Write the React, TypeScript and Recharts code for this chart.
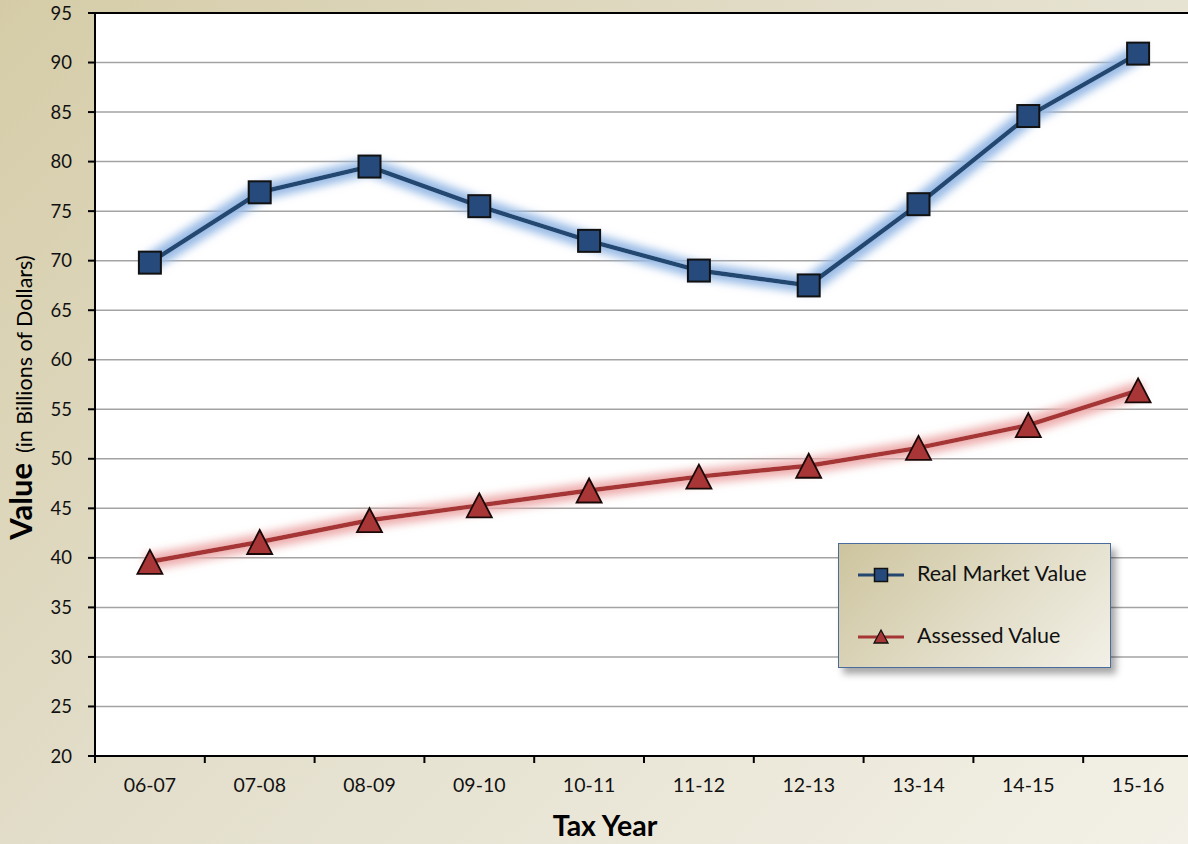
import React from "react";
import {
  LineChart,
  Line,
  XAxis,
  YAxis,
  CartesianGrid,
  ReferenceLine,
  Legend,
} from "recharts";

const categories = ["06-07", "07-08", "08-09", "09-10", "10-11", "11-12", "12-13", "13-14", "14-15", "15-16"];
const realMarketValue = [69.8, 76.9, 79.5, 75.5, 72.0, 69.0, 67.5, 75.7, 84.6, 90.9];
const assessedValue = [39.6, 41.6, 43.8, 45.3, 46.8, 48.2, 49.3, 51.1, 53.4, 56.9];
const yTicks = [20, 25, 30, 35, 40, 45, 50, 55, 60, 65, 70, 75, 80, 85, 90, 95];
// category centres (integers) and category boundaries (half values) on the x axis
const xTicks = [-0.5, 0, 0.5, 1, 1.5, 2, 2.5, 3, 3.5, 4, 4.5, 5, 5.5, 6, 6.5, 7, 7.5, 8, 8.5, 9, 9.5];

const data = categories.map((c, i) => ({
  i,
  label: c,
  rmv: realMarketValue[i],
  av: assessedValue[i],
}));

const FONT = "Lato, 'Open Sans', sans-serif";
const BLUE = "#24466f";
const BLUE_FILL = "#264a7c";
const RED = "#a63535";
const RED_FILL = "#a83636";

const XTick = (props: any) => {
  const { x, y, payload } = props;
  const v = payload.value;
  if (Number.isInteger(v)) {
    return (
      <text x={x} y={y + 36} textAnchor="middle" fontSize={19.5} fontFamily={FONT} fill="#111">
        {categories[v]}
      </text>
    );
  }
  return <line x1={x} y1={y} x2={x} y2={y + 7} stroke="#000" strokeWidth={2} />;
};

const SquareDot = (props: any) => {
  const { cx, cy } = props;
  if (cx == null || cy == null) return null;
  return (
    <rect x={cx - 11} y={cy - 11} width={22} height={22} fill={BLUE_FILL} stroke="#111" strokeWidth={2} />
  );
};

const TriangleDot = (props: any) => {
  const { cx, cy } = props;
  if (cx == null || cy == null) return null;
  const pts = `${cx},${cy - 12} ${cx + 12.5},${cy + 12} ${cx - 12.5},${cy + 12}`;
  return <polygon points={pts} fill={RED_FILL} stroke="#1a0808" strokeWidth={1.8} strokeLinejoin="miter" />;
};

const YLabel = (props: any) => {
  const vb = props.viewBox || { x: 0, y: 13, width: 95, height: 743 };
  const bx = vb.x + 32;
  const cy = vb.y + vb.height / 2 + 13;
  return (
    <text
      x={bx}
      y={cy}
      transform={`rotate(-90 ${bx} ${cy})`}
      textAnchor="middle"
      fontFamily={FONT}
      fill="#000"
    >
      <tspan fontWeight={700} fontSize={31}>Value</tspan>
      <tspan fontSize={21.5} dx={10}>(in Billions of Dollars)</tspan>
    </text>
  );
};

const XLabel = (props: any) => {
  const vb = props.viewBox || { x: 95, y: 756, width: 1098, height: 88 };
  const cx = vb.x + vb.width / 2 - 39;
  const by = vb.y + 80;
  return (
    <text x={cx} y={by} textAnchor="middle" fontFamily={FONT} fontWeight={700} fontSize={28.5} fill="#000">
      Tax Year
    </text>
  );
};

const LegendBox = () => (
  <div
    style={{
      position: "relative",
      width: 273,
      height: 125,
      boxSizing: "border-box",
      border: "1.5px solid #4a6c9c",
      background: "linear-gradient(135deg, #cdc49e 0%, #e2ddc8 55%, #f2f0e7 100%)",
      boxShadow: "5px 6px 7px rgba(0,0,0,0.35)",
      fontFamily: FONT,
      fontSize: 21.5,
      color: "#111",
    }}
  >
    <svg width={50} height={20} style={{ position: "absolute", left: 17, top: 21 }}>
      <line x1={2} y1={10} x2={48} y2={10} stroke={BLUE} strokeWidth={3} />
      <rect x={18.5} y={3.5} width={13} height={13} fill={BLUE_FILL} stroke="#111" strokeWidth={1.5} />
    </svg>
    <div style={{ position: "absolute", left: 78, top: 16, whiteSpace: "nowrap" }}>Real Market Value</div>
    <svg width={50} height={20} style={{ position: "absolute", left: 17, top: 83 }}>
      <line x1={2} y1={10} x2={48} y2={10} stroke={RED} strokeWidth={3} />
      <polygon points="25,3 32,16 18,16" fill={RED_FILL} stroke="#111" strokeWidth={1.3} />
    </svg>
    <div style={{ position: "absolute", left: 78, top: 78, whiteSpace: "nowrap" }}>Assessed Value</div>
  </div>
);

export default function App() {
  return (
    <div
      style={{
        position: "fixed",
        left: 0,
        top: 0,
        width: 1188,
        height: 844,
        overflow: "hidden",
        background: "linear-gradient(135deg, #d5cca7 0%, #e3decb 45%, #f3f1e7 100%)",
      }}
    >
      <svg width={0} height={0} style={{ position: "absolute" }}>
        <defs>
          <filter id="glowB" x="-10%" y="-20%" width="120%" height="140%">
            <feMorphology in="SourceAlpha" operator="dilate" radius={5} result="d" />
            <feGaussianBlur in="d" stdDeviation={4.5} result="b" />
            <feFlood floodColor="#99bbe6" floodOpacity={1} />
            <feComposite in2="b" operator="in" result="g" />
            <feMerge>
              <feMergeNode in="g" />
              <feMergeNode in="SourceGraphic" />
            </feMerge>
          </filter>
          <filter id="glowR" x="-10%" y="-20%" width="120%" height="140%">
            <feMorphology in="SourceAlpha" operator="dilate" radius={5} result="d" />
            <feGaussianBlur in="d" stdDeviation={4.5} result="b" />
            <feFlood floodColor="#eeaeae" floodOpacity={1} />
            <feComposite in2="b" operator="in" result="g" />
            <feMerge>
              <feMergeNode in="g" />
              <feMergeNode in="SourceGraphic" />
            </feMerge>
          </filter>
        </defs>
      </svg>
      <style>{`.glowBlue{filter:url(#glowB);} .glowRed{filter:url(#glowR);}`}</style>
      <LineChart width={1196} height={844} data={data} margin={{ top: 13, right: 3, bottom: 0, left: 0 }}>
        <CartesianGrid vertical={false} stroke="#a3a3a3" strokeWidth={1.5} fill="#ffffff" />
        <XAxis
          type="number"
          dataKey="i"
          domain={[-0.5, 9.5]}
          ticks={xTicks}
          interval={0}
          height={88}
          tickLine={false}
          tickSize={0}
          tickMargin={0}
          axisLine={{ stroke: "#000", strokeWidth: 2 }}
          tick={<XTick />}
          allowDataOverflow
          label={{ content: <XLabel /> } as any}
        />
        <YAxis
          type="number"
          domain={[20, 95]}
          ticks={yTicks}
          interval={0}
          width={95}
          tickSize={7}
          tickMargin={16}
          axisLine={{ stroke: "#000", strokeWidth: 2 }}
          tickLine={{ stroke: "#000", strokeWidth: 2 }}
          tick={{ fontSize: 18.5, fontFamily: FONT, fill: "#111" }}
          allowDataOverflow
          label={{ content: <YLabel /> } as any}
        />
        <ReferenceLine y={95} stroke="#000" strokeWidth={2} />
        <Line
          type="linear"
          dataKey="av"
          name="Assessed Value"
          stroke={RED}
          strokeWidth={4.5}
          dot={<TriangleDot />}
          activeDot={false}
          className="glowRed"
          isAnimationActive={false}
        />
        <Line
          type="linear"
          dataKey="rmv"
          name="Real Market Value"
          stroke={BLUE}
          strokeWidth={4.5}
          dot={<SquareDot />}
          activeDot={false}
          className="glowBlue"
          isAnimationActive={false}
        />
        <Legend
          layout="vertical"
          align="center"
          verticalAlign="middle"
          content={<LegendBox />}
          wrapperStyle={{ position: "absolute", left: 838, top: 543, width: 273, height: 125, margin: 0 }}
        />
      </LineChart>
    </div>
  );
}
